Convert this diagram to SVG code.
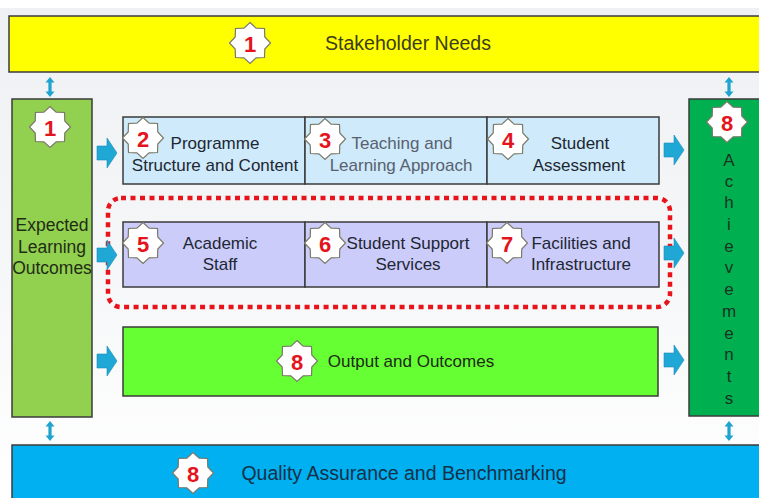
<svg xmlns="http://www.w3.org/2000/svg" width="759" height="498" viewBox="0 0 759 498">
<defs>
<linearGradient id="bg" x1="0" y1="0" x2="0" y2="1">
<stop offset="0" stop-color="#eef0f3"/>
<stop offset="0.55" stop-color="#f6f7f8"/>
<stop offset="1" stop-color="#ffffff"/>
</linearGradient>
<path id="star" d="M0,-20.5 L6.12,-14.78 L14.5,-14.5 L14.78,-6.12 L20.5,0 L14.78,6.12 L14.5,14.5 L6.12,14.78 L0,20.5 L-6.12,14.78 L-14.5,14.5 L-14.78,6.12 L-20.5,0 L-14.78,-6.12 L-14.5,-14.5 L-6.12,-14.78 Z"/>
<path id="rarrow" d="M0,-7 H10 V-15 L20,0 L10,15 V7 H0 Z"/>
<path id="darrow" d="M0,-10 L4.5,-4.5 H1.6 V4.5 H4.5 L0,10 L-4.5,4.5 H-1.6 V-4.5 H-4.5 Z"/>
</defs>
<style>
.box{stroke:#3b3b3b;stroke-width:1.5}
.t{font-family:"Liberation Sans",Arial,sans-serif;font-size:17px;text-anchor:middle;dominant-baseline:central;fill:#1d2733}
.big{font-size:19.5px}
.ach{font-size:17px;fill:#1a3320}
.num{font-family:"Liberation Sans",Arial,sans-serif;font-size:22px;font-weight:bold;text-anchor:middle;dominant-baseline:central;fill:#e3141c}
.st{fill:#ffffff;stroke:#7a7a6a;stroke-width:1.2}
.arr{fill:#1fa7d6;stroke:#1a8fb8;stroke-width:0.6}
.darr{fill:#1fa3cf}
</style>
<rect x="0" y="0" width="759" height="498" fill="url(#bg)"/>
<rect x="0" y="0" width="759" height="8" fill="#ffffff"/>

<g id="stakeholder-needs">
<rect class="box" x="9" y="16" width="760" height="56" fill="#ffff00" stroke="#5a5a2a"/>
<use href="#star" class="st" x="250" y="43"/>
<text class="num" x="250" y="44">1</text>
<text class="t big" x="408" y="43" style="fill:#3c3c1e">Stakeholder Needs</text>
</g>

<g id="expected-learning-outcomes">
<rect class="box" x="12" y="99" width="80" height="318" fill="#92d050"/>
<use href="#star" class="st" x="50" y="127"/>
<text class="num" x="50" y="128">1</text>
<text class="t" x="52" y="225" style="fill:#1f2d16;font-size:17.5px">Expected</text>
<text class="t" x="52" y="247" style="fill:#1f2d16;font-size:17.5px">Learning</text>
<text class="t" x="52" y="268" style="fill:#1f2d16;font-size:17.5px">Outcomes</text>
</g>

<g id="achievements">
<rect class="box" x="689" y="99" width="80" height="317" fill="#00b050"/>
<use href="#star" class="st" x="727" y="122"/>
<text class="num" x="727" y="123">8</text>
<text class="t ach" x="729" y="160">A</text>
<text class="t ach" x="729" y="181">c</text>
<text class="t ach" x="729" y="202">h</text>
<text class="t ach" x="729" y="224">i</text>
<text class="t ach" x="729" y="246">e</text>
<text class="t ach" x="729" y="267">v</text>
<text class="t ach" x="729" y="289">e</text>
<text class="t ach" x="729" y="311">m</text>
<text class="t ach" x="729" y="333">e</text>
<text class="t ach" x="729" y="354">n</text>
<text class="t ach" x="729" y="376">t</text>
<text class="t ach" x="729" y="398">s</text>
</g>

<g id="programme-structure">
<rect class="box" x="123" y="117" width="182" height="67" fill="#cfeafa"/>
<use href="#star" class="st" x="143" y="138"/>
<text class="num" x="143" y="139">2</text>
<text class="t" x="215" y="143">Programme</text>
<text class="t" x="215" y="165">Structure and Content</text>
</g>

<g id="teaching-learning">
<rect class="box" x="305" y="117" width="182" height="67" fill="#cfeafa"/>
<use href="#star" class="st" x="325" y="139"/>
<text class="num" x="325" y="140">3</text>
<text class="t" x="402" y="143" style="fill:#586170">Teaching and</text>
<text class="t" x="401" y="165" style="fill:#586170">Learning Approach</text>
</g>

<g id="student-assessment">
<rect class="box" x="487" y="117" width="172" height="67" fill="#cfeafa"/>
<use href="#star" class="st" x="508" y="139"/>
<text class="num" x="508" y="140">4</text>
<text class="t" x="580" y="143">Student</text>
<text class="t" x="579" y="165">Assessment</text>
</g>

<g id="academic-staff">
<rect class="box" x="123" y="222" width="182" height="65" fill="#ccccfb"/>
<use href="#star" class="st" x="143" y="243"/>
<text class="num" x="143" y="244">5</text>
<text class="t" x="220" y="243">Academic</text>
<text class="t" x="220" y="264">Staff</text>
</g>

<g id="student-support">
<rect class="box" x="305" y="222" width="182" height="65" fill="#ccccfb"/>
<use href="#star" class="st" x="325" y="243"/>
<text class="num" x="325" y="244">6</text>
<text class="t" x="408" y="243">Student Support</text>
<text class="t" x="408" y="264">Services</text>
</g>

<g id="facilities">
<rect class="box" x="487" y="222" width="172" height="65" fill="#ccccfb"/>
<use href="#star" class="st" x="507" y="243"/>
<text class="num" x="507" y="244">7</text>
<text class="t" x="581" y="243">Facilities and</text>
<text class="t" x="581" y="264">Infrastructure</text>
</g>

<g id="output-outcomes">
<rect class="box" x="123" y="327" width="535" height="69" fill="#66ff33"/>
<use href="#star" class="st" x="297" y="361"/>
<text class="num" x="297" y="362">8</text>
<text class="t" x="411" y="361" style="fill:#1d2a16">Output and Outcomes</text>
</g>

<g id="quality-assurance">
<rect class="box" x="12" y="445" width="760" height="60" fill="#00b0f0" stroke="#2a6f8a"/>
<use href="#star" class="st" x="193" y="473"/>
<text class="num" x="193" y="474">8</text>
<text class="t big" x="404" y="473" style="fill:#14304a">Quality Assurance and Benchmarking</text>
</g>

<g id="highlight">
<rect x="108" y="198" width="562" height="109" rx="13" ry="13" fill="none" stroke="#e8141b" stroke-width="4.5" stroke-dasharray="5 4.5"/>
</g>

<g id="connectors">
<use href="#rarrow" class="arr" x="97" y="153"/>
<use href="#rarrow" class="arr" x="97" y="255"/>
<use href="#rarrow" class="arr" x="97" y="361"/>
<use href="#rarrow" class="arr" x="664" y="150"/>
<use href="#rarrow" class="arr" x="664" y="253"/>
<use href="#rarrow" class="arr" x="664" y="360"/>
<use href="#darrow" class="darr" x="50" y="87"/>
<use href="#darrow" class="darr" x="729" y="87"/>
<use href="#darrow" class="darr" x="50" y="431"/>
<use href="#darrow" class="darr" x="729" y="431"/>
</g>
</svg>
